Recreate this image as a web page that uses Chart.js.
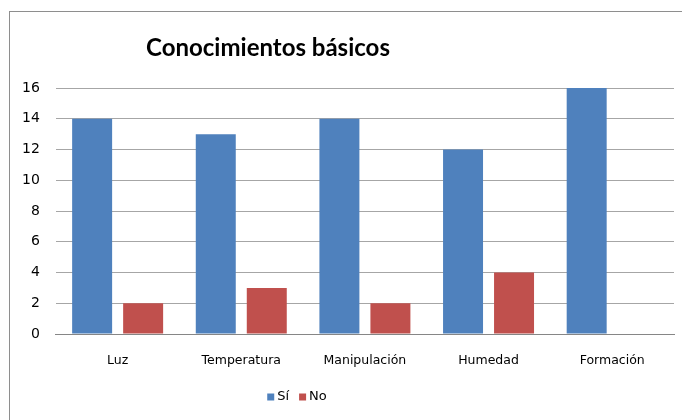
<!DOCTYPE html>
<html>
<head>
<meta charset="utf-8">
<script src="https://cdn.jsdelivr.net/npm/chart.js@4"></script>
<style>
  body { margin: 0; overflow: hidden; background: #fff; }
  #marco { position: absolute; left: 9px; top: 11px; width: 1000px; height: 1000px; border: 1px solid #8e8e8e; }
  #wrap { position: absolute; left: 0; top: 0; width: 682px; height: 420px; }
</style>
</head>
<body>
<div id="marco"></div>
<div id="wrap"><canvas id="grafico"></canvas></div>
<script>
const titulo = 'Conocimientos básicos';
const categorias = ['Luz', 'Temperatura', 'Manipulación', 'Humedad', 'Formación'];
const valoresSi = [14, 13, 14, 12, 16];
const valoresNo = [2, 3, 2, 4, 0];
const ejeY = { min: 0, max: 16, paso: 2 };

const fuente = 'Verdana, "DejaVu Sans", sans-serif';

// título y leyenda dibujados a mano, Excel no los centra sobre el gráfico
const tituloYLeyenda = {
  id: 'tituloYLeyenda',
  afterDraw(chart) {
    const ctx = chart.ctx;
    ctx.save();
    ctx.fillStyle = '#000';
    ctx.font = 'bold 24px Lato, "Open Sans", sans-serif';
    ctx.textAlign = 'center';
    ctx.textBaseline = 'middle';
    ctx.fillText(titulo, 268, 48);

    // leyenda
    ctx.font = '13px ' + fuente;
    ctx.textAlign = 'left';
    const caja = 7, sep = 3, entre = 10;
    const items = chart.data.datasets.map(d => ({ txt: d.label, color: d.backgroundColor, w: ctx.measureText(d.label).width }));
    let total = items.reduce((s, it) => s + caja + sep + it.w, 0) + entre * (items.length - 1);
    let x = 297 - total / 2;
    const y = 397;
    items.forEach(it => {
      ctx.fillStyle = it.color;
      ctx.fillRect(x, y - caja / 2, caja, caja);
      x += caja + sep;
      ctx.fillStyle = '#000';
      ctx.fillText(it.txt, x, y);
      x += it.w + entre;
    });
    ctx.restore();
  }
};

new Chart(document.getElementById('grafico'), {
  type: 'bar',
  data: {
    labels: categorias,
    datasets: [{
      label: 'Sí',
      data: valoresSi,
      backgroundColor: '#4F81BD',
      borderWidth: 0,
      barPercentage: 0.784,
      categoryPercentage: 0.825
    },
    {
      label: 'No',
      data: valoresNo,
      backgroundColor: '#C0504D',
      borderWidth: 0,
      barPercentage: 0.784,
      categoryPercentage: 0.825
    }]
  },
  options: {
    responsive: true,
    maintainAspectRatio: false,
    animation: false,
    layout: {
      padding: { left: 6, right: 8, top: 88, bottom: 33 }
    },
    scales: {
      x: {
        grid: { display: false, drawTicks: false },
        border: { display: true, color: '#868686', width: 1 },
        ticks: { color: '#000', font: { family: fuente, size: 12.5 }, padding: 19 }
      },
      y: {
        min: ejeY.min,
        max: ejeY.max,
        ticks: { stepSize: ejeY.paso, color: '#000', font: { family: fuente, size: 14 }, padding: 16 },
        grid: { color: '#a6a6a6', drawTicks: false, lineWidth: 1 },
        border: { display: false }
      }
    },
    plugins: {
      legend: { display: false },
      title: { display: false },
      tooltip: { enabled: false }
    }
  },
  plugins: [tituloYLeyenda]
});
</script>
</body>
</html>
